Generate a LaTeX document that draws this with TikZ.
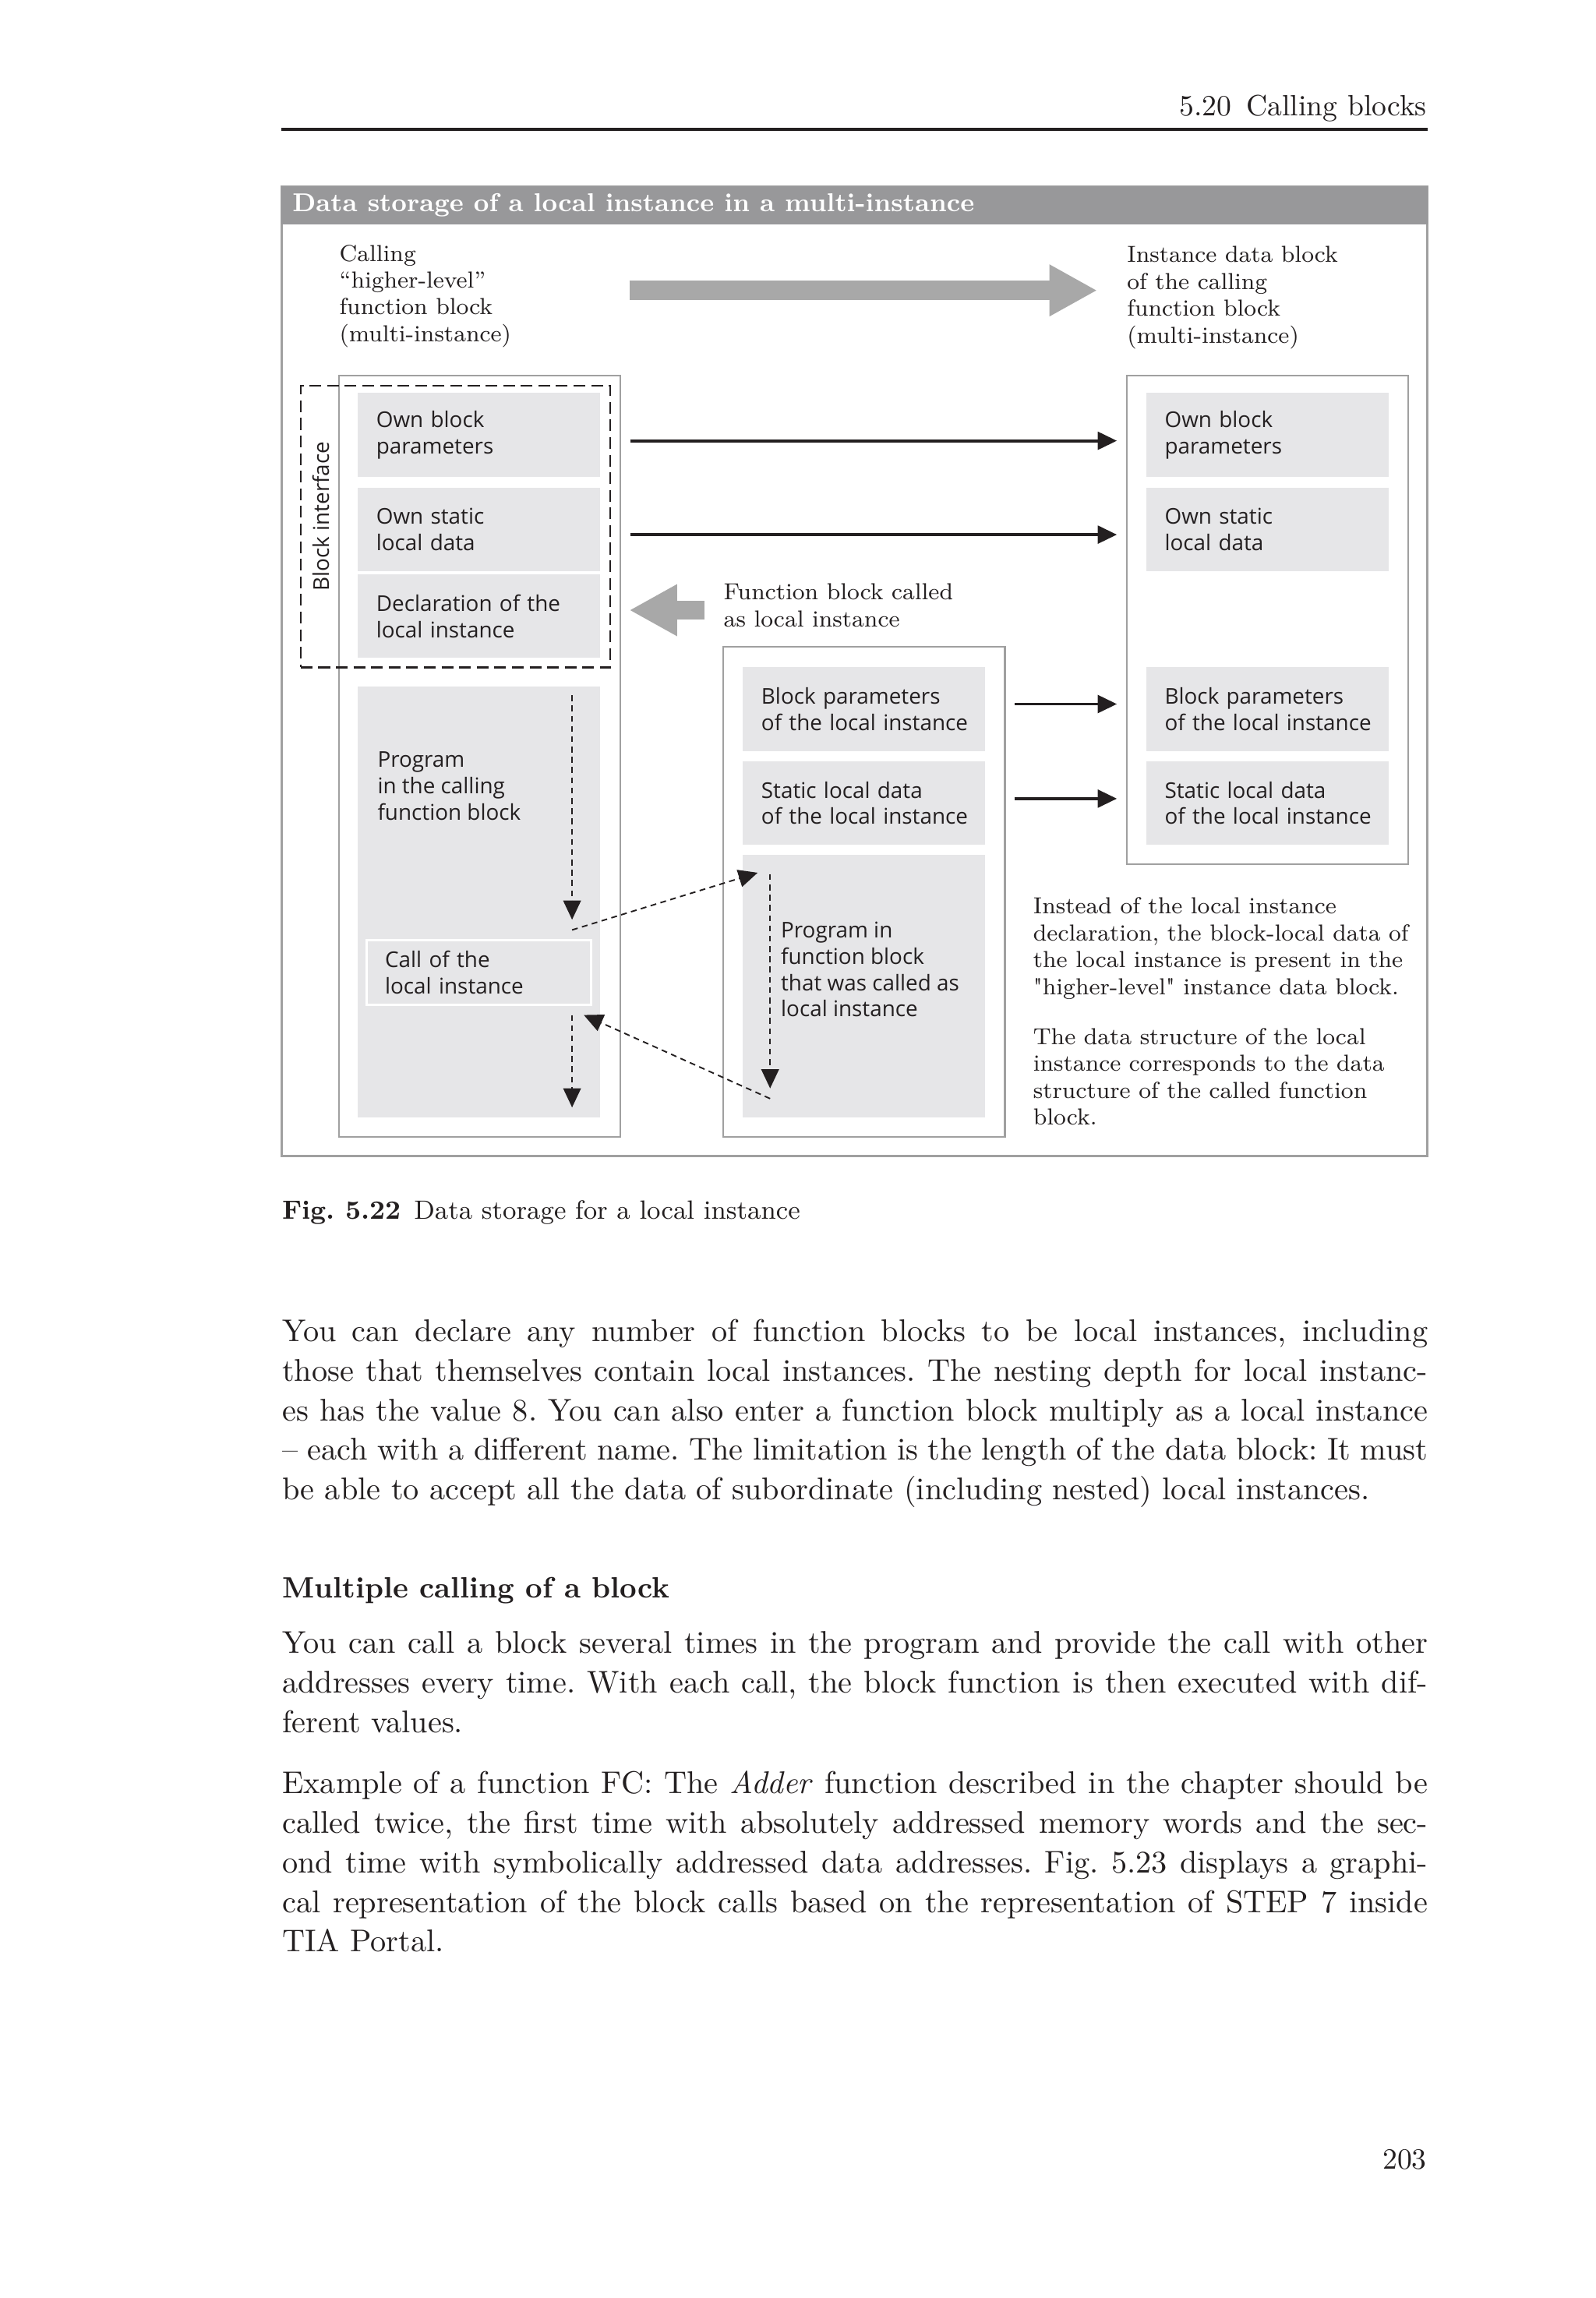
\documentclass[tikz,border=0pt]{standalone}
\usepackage{fontspec}
\newfontfamily\diasans{Open Sans}
\usetikzlibrary{arrows.meta,positioning}
\definecolor{bargray}{RGB}{152,152,154}
\definecolor{framegray}{RGB}{160,160,160}
\definecolor{cellgray}{RGB}{230,230,232}
\definecolor{arrowgray}{RGB}{168,168,168}
\definecolor{inkgray}{RGB}{35,31,32}
\newcommand{\jline}[1]{\makebox[390.5pt][s]{#1}}
\tikzset{
  serif/.style={font=\fontsize{7.9}{9.15}\selectfont, align=left, inner sep=0pt, anchor=north west, text=inkgray},
  sans/.style={font=\diasans\fontsize{7.4}{9}\selectfont, text=inkgray},
  cell/.style={sans, fill=cellgray, minimum width=82.5pt, minimum height=28.5pt, text width=70pt, inner xsep=6.25pt, inner ysep=0pt, align=left,
    execute at begin node={\rightskip=0pt plus 1fil minus 8pt}},
  column/.style={draw=framegray, line width=0.6pt, fill=white, minimum width=96pt, inner sep=0pt},
  blkarrow/.style={line width=1pt, draw=inkgray, -{Triangle[length=6.5pt,width=6pt]}, shorten <=3pt, shorten >=3pt},
  dasharrow/.style={line width=0.5pt, draw=inkgray, dash pattern=on 2pt off 1.5pt, -{Triangle[length=6.5pt,width=6pt]}},
  grayarrow/.style={line width=6.5pt, draw=arrowgray, -{Triangle[length=16.3pt,width=16.5pt]}},
  body/.style={font=\fontsize{10.7}{13.5}\selectfont\frenchspacing, align=left, inner sep=0pt, anchor=north west, text=inkgray}
}
\begin{document}
\begin{tikzpicture}[x=0.5pt,y=-0.5pt]
                \useasboundingbox (0,0) rectangle (1088,1566.7);
                \fill[white] (0,0) rectangle (1088,1566.7);
                \node[anchor=base east, inner sep=0pt, font=\fontsize{10}{12}\selectfont, text=inkgray] (runhead) at (973,79) {5.20\enspace Calling blocks};
                \draw[line width=1pt, inkgray] (192,88) -- (973,88);
                \draw[framegray, line width=0.7pt, fill=white] (192,127) rectangle (973,788);
                \fill[bargray] (192,127) rectangle (973,153);
                \node[anchor=base west, inner sep=0pt, text=white, font=\bfseries\fontsize{8.8}{10}\selectfont\frenchspacing] (figtitle) at (199,144.5) {Data storage of a local instance in a multi-instance};
                \node[column, minimum height=259.5pt] (calling) at (327,515.5) {};
                \node[column, minimum height=167pt] (called) at (589,608) {};
                \node[column, minimum height=166.5pt] (idb) at (864,422.5) {};
                \node[cell] (ownparL) at (326.5,296.5) {Own block\\parameters};
                \node[cell] (ownstatL) at (326.5,361) {Own static\\local data};
                \node[cell] (declL) at (326.5,420) {Declaration of the\\local instance};
                \node[cell, minimum height=147pt] (progL) at (326.5,615) {};
                \node[sans, anchor=north west, align=left, inner sep=0pt] (progLtxt) at (257,512) {Program\\in the calling\\function block};
                \node[cell, draw=white, line width=0.6pt, minimum width=76.5pt, minimum height=22pt, text width=64pt] (callL) at (326.5,663) {Call of the\\local instance};
                \node[cell] (bparM) at (589,483.5) {Block parameters\\of the local instance};
                \node[cell] (statM) at (589,547.5) {Static local data\\of the local instance};
                \node[cell, minimum height=89.5pt] (progM) at (589,672.5) {};
                \node[sans, anchor=north west, align=left, inner sep=0pt] (progMtxt) at (532,628) {Program in\\function block\\that was called as\\local instance};
                \node[cell] (ownparR) at (864,296.5) {Own block\\parameters};
                \node[cell] (ownstatR) at (864,361) {Own static\\local data};
                \node[cell] (bparR) at (864,483.5) {Block parameters\\of the local instance};
                \node[cell] (statR) at (864,547.5) {Static local data\\of the local instance};
                \node[draw=inkgray, line width=0.6pt, dash pattern=on 4pt off 2pt, minimum width=105.5pt, minimum height=96pt, inner sep=0pt] (iface) at (310.5,359) {};
                \node[sans, rotate=90, inner sep=0pt] (ifacelbl) at (219,352) {Block interface};
                \node[serif] (callinglbl) at (231,166.5) {Calling\\“higher-level”\\function block\\(multi-instance)};
                \node[serif] (idblbl) at (768,167.5) {Instance data block\\of the calling\\function block\\(multi-instance)};
                \node[serif] (fbcalled) at (493,397.5) {Function block called\\as local instance};
                \node[serif] (note1) at (704,611.5) {Instead of the local instance\\declaration, the block-local data of\\the local instance is present in the\\\textquotedbl higher-level\textquotedbl{} instance data block.};
                \node[serif] (note2) at (704,700.5) {The data structure of the local\\instance corresponds to the data\\structure of the called function\\block.};
                \coordinate (bigtail) at (429,198);
                \coordinate (bigtip) at (748,198);
                \draw[grayarrow] (bigtail) -- (bigtip);
                \coordinate (backtail) at (480,416);
                \coordinate (backtip) at (429,416);
                \draw[grayarrow] (backtail) -- (backtip);
                \draw[blkarrow] ([yshift=-2pt]calling.east |- ownparL) -- ([yshift=-2pt]idb.west |- ownparR);
                \draw[blkarrow] ([yshift=-1.75pt]calling.east |- ownstatL) -- ([yshift=-1.75pt]idb.west |- ownstatR);
                \draw[blkarrow] ([yshift=1.75pt]called.east |- bparM) -- ([yshift=1.75pt]idb.west |- bparR);
                \draw[blkarrow] ([yshift=1.5pt]called.east |- statM) -- ([yshift=1.5pt]idb.west |- statR);
                \coordinate (flowA) at (390,474);
                \coordinate (flowB) at (390,627);
                \coordinate (callout) at (390,634);
                \coordinate (calledtop) at (516.5,595);
                \coordinate (calledin) at (525,596);
                \coordinate (calledend) at (525,742);
                \coordinate (calledret) at (525,749);
                \coordinate (callback) at (398,692);
                \coordinate (flowC) at (390,692);
                \coordinate (flowD) at (390,755);
                \draw[dasharrow] (flowA) -- (flowB);
                \draw[dasharrow] (callout) -- (calledtop);
                \draw[dasharrow] (calledin) -- (calledend);
                \draw[dasharrow] (calledret) -- (callback);
                \draw[dasharrow] (flowC) -- (flowD);
                \node[anchor=base west, inner sep=0pt, font=\fontsize{9}{11}\selectfont\frenchspacing, text=inkgray] (caption) at (192,831) {\textbf{Fig. 5.22}\enspace Data storage for a local instance};
                \node[body] (para1) at (192,899) {\jline{You can declare any number of function blocks to be local instances, including}\\
                    \jline{those that themselves contain local instances. The nesting depth for local instanc-}\\
                    \jline{es has the value 8. You can also enter a function block multiply as a local instance}\\
                    \jline{– each with a different name. The limitation is the length of the data block: It must}\\
                    be able to accept all the data of subordinate (including nested) local instances.};
                \node[anchor=base west, inner sep=0pt, font=\bfseries\fontsize{10}{12}\selectfont, text=inkgray] (heading) at (192,1089.5) {Multiple calling of a block};
                \node[body] (para2) at (192,1112) {\jline{You can call a block several times in the program and provide the call with other}\\
                    \jline{addresses every time. With each call, the block function is then executed with dif-}\\
                    ferent values.};
                \node[body] (para3) at (192,1207) {\jline{Example of a function FC: The \textit{Adder} function described in the chapter should be}\\
                    \jline{called twice, the first time with absolutely addressed memory words and the sec-}\\
                    \jline{ond time with symbolically addressed data addresses. Fig. 5.23 displays a graphi-}\\
                    \jline{cal representation of the block calls based on the representation of STEP 7 inside}\\
                    TIA Portal.};
                \node[anchor=base east, inner sep=0pt, font=\fontsize{10}{12}\selectfont, text=inkgray] (pagenum) at (973,1478.5) {203};
            \end{tikzpicture}
\end{document}
